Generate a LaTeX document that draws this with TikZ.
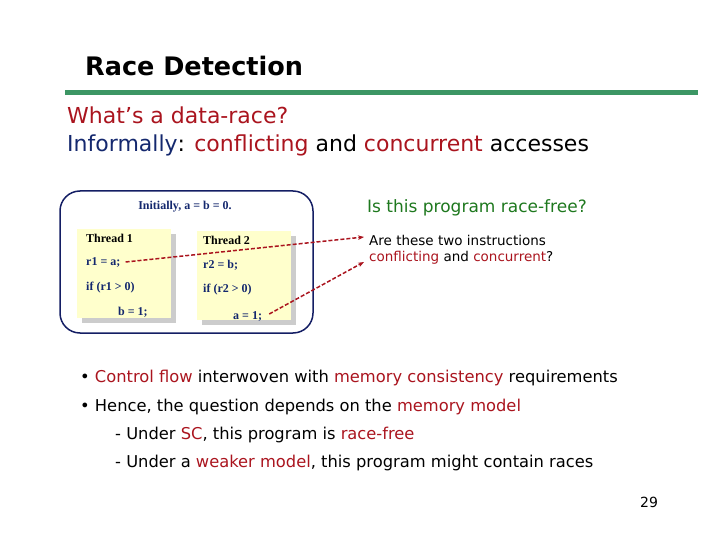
\documentclass[tikz,border=0pt]{standalone}
\usepackage{fontspec}
\setmainfont{DejaVu Sans}
\newfontfamily\serifb{Liberation Serif}
\usetikzlibrary{arrows.meta}
\definecolor{dred}{RGB}{170,20,30}
\definecolor{navy}{RGB}{20,30,100}
\definecolor{gline}{RGB}{60,150,100}
\definecolor{qgreen}{RGB}{30,120,30}
\definecolor{codeblue}{RGB}{20,40,110}
\definecolor{pyellow}{RGB}{255,255,204}
\begin{document}
\begin{tikzpicture}[x=1pt,y=-1pt,
  txt/.style={anchor=west,inner sep=0pt},
  code/.style={anchor=west,inner sep=0pt,font=\serifb\bfseries\fontsize{12}{14}\selectfont,text=codeblue},
  thread/.style={fill=pyellow,draw=none},
  shadow/.style={fill=black!20,draw=none},
  race/.style={draw=dred,line width=1.5pt,dash pattern=on 4pt off 2pt,-{Stealth[length=6pt]}},
  big/.style={font=\fontsize{22}{26}\selectfont},
  bul/.style={font=\fontsize{16.3}{19}\selectfont}]
\useasboundingbox (0,0) rectangle (720,540);
\node[txt,font=\bfseries\fontsize{25.5}{29}\selectfont] (title) at (85,66) {Race Detection};
\draw[gline,line width=5pt] (65,93) -- (698,93);
\node[txt,big,text=dred] (q) at (67,115) {What’s a data-race?};
\node[txt,big] (inf) at (67,145) {\textcolor{codeblue}{Informally}: \textcolor{dred}{conflicting} and \textcolor{dred}{concurrent} accesses};
\draw[navy,line width=1.5pt,rounded corners=20pt] (60,191) rectangle (313,333);
\node[code,anchor=center] (init) at (185,207) {Initially, a = b = 0.};
\fill[shadow] (82,234) rectangle (176,323);
\fill[thread] (77,229) rectangle (171,318);
\fill[shadow] (202,236) rectangle (296,325);
\fill[thread] (197,231) rectangle (291,320);
\node[code,text=black] (t1) at (86,238) {Thread 1};
\node[code] (r1) at (86,262) {r1 = a;};
\node[code] (if1) at (86,288) {if (r1 > 0)};
\node[code] (b1) at (118,312) {b = 1;};
\node[code,text=black] (t2) at (203,240) {Thread 2};
\node[code] (r2) at (203,265) {r2 = b;};
\node[code] (if2) at (203,290) {if (r2 > 0)};
\node[code] (a1) at (233,316) {a = 1;};
\node[txt,text=qgreen,font=\fontsize{17}{20}\selectfont] (isq) at (367,208) {Is this program race-free?};
\node[txt,font=\fontsize{13.5}{16}\selectfont] (are) at (369,240) {Are these two instructions};
\node[txt,font=\fontsize{13.5}{16}\selectfont] (are2) at (369,258) {\textcolor{dred}{conflicting} and \textcolor{dred}{concurrent}?};
\coordinate (tip1) at (364,237);
\coordinate (tip2) at (364,262);
\draw[race] (r1.east) ++(5,0) -- (tip1);
\draw[race] (a1.east) ++(7,-2) -- (tip2);
\node[txt,bul] (bu1) at (80,378) {• \textcolor{dred}{Control flow} interwoven with \textcolor{dred}{memory consistency} requirements};
\node[txt,bul] (bu2) at (80,407) {• Hence, the question depends on the \textcolor{dred}{memory model}};
\node[txt,bul] (bu3) at (115,435) {- Under \textcolor{dred}{SC}, this program is \textcolor{dred}{race-free}};
\node[txt,bul] (bu4) at (115,463) {- Under a \textcolor{dred}{weaker model}, this program might contain races};
\node[txt,font=\fontsize{14}{16}\selectfont] (pg) at (640,502) {29};
\end{tikzpicture}
\end{document}
